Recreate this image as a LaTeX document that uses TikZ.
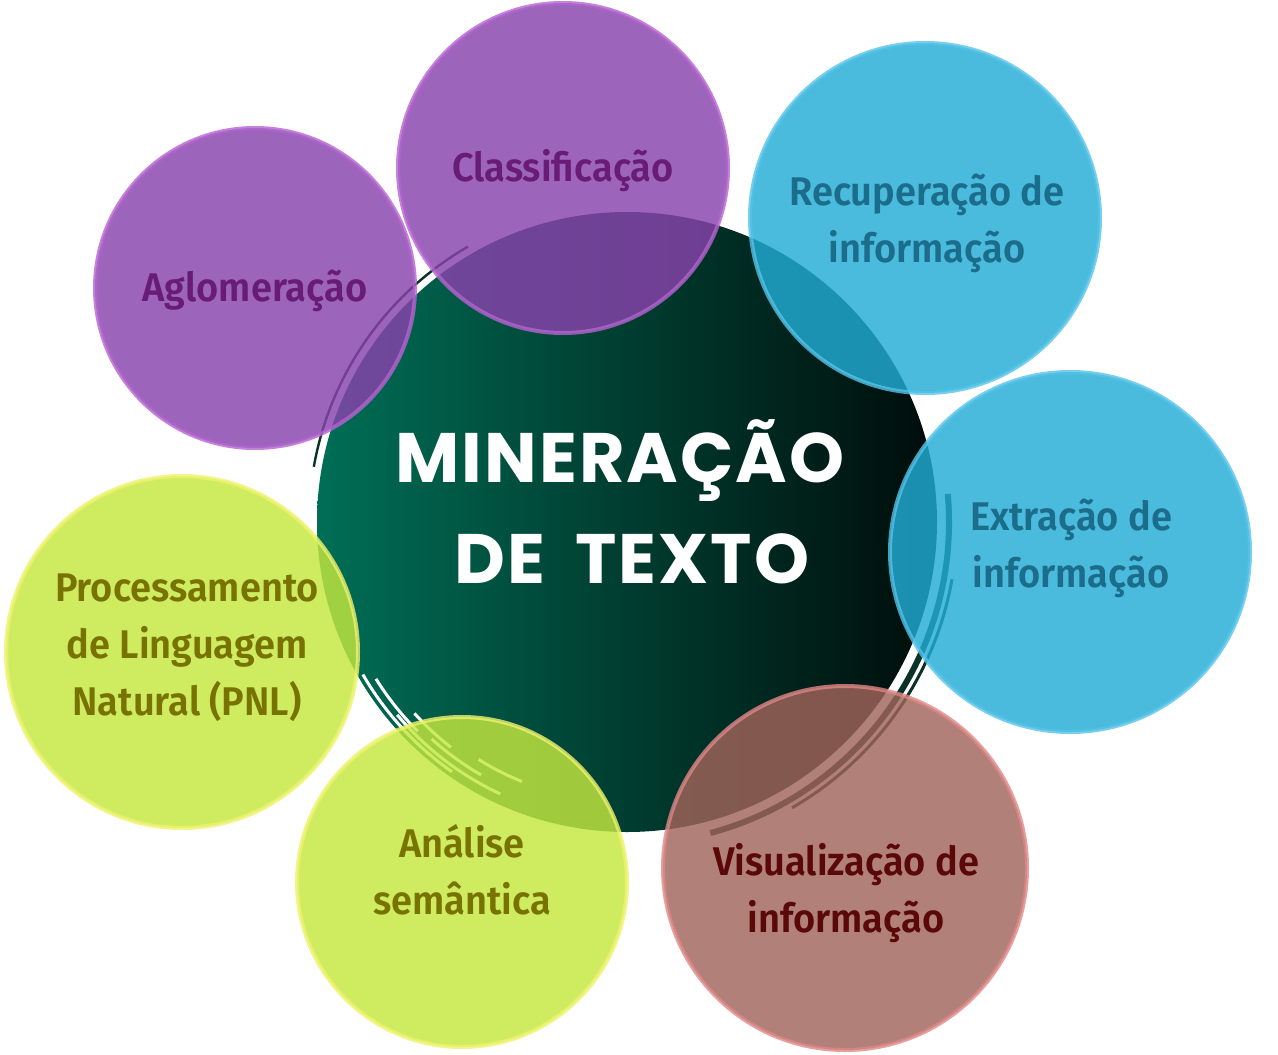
\documentclass[tikz,border=0pt]{standalone}
\usepackage{fontspec}
\setmainfont{Fira Sans}
\newfontfamily\labfont{Fira Sans SemiBold}[FakeStretch=0.95]
\newfontfamily\popfont{Poppins}[LetterSpace=3]
\definecolor{purpF}{RGB}{136,66,172}
\definecolor{purpR}{RGB}{180,100,208}
\definecolor{purpT}{RGB}{105,28,118}
\definecolor{blueF}{RGB}{34,172,212}
\definecolor{blueR}{RGB}{85,195,232}
\definecolor{blueT}{RGB}{28,108,140}
\definecolor{yelF}{RGB}{196,232,62}
\definecolor{yelR}{RGB}{238,242,110}
\definecolor{yelT}{RGB}{120,115,0}
\definecolor{redF}{RGB}{160,100,90}
\definecolor{redR}{RGB}{222,135,135}
\definecolor{redT}{RGB}{90,8,8}
\definecolor{cenL}{RGB}{0,110,86}
\definecolor{cenR}{RGB}{0,12,10}
\definecolor{cenD}{RGB}{10,50,40}
\tikzset{
  bubble/.style={fill opacity=0.82, draw opacity=0.8, line width=2},
  lab/.style={font=\labfont\fontsize{20}{28.5}\selectfont, align=center, inner sep=0},
  central/.style={font=\popfont\bfseries\fontsize{35}{50}\selectfont, text=white, inner sep=0, anchor=base},
}
\begin{document}
\begin{tikzpicture}[x=0.5pt,y=-0.5pt]
\useasboundingbox (0,0) rectangle (1278,1054);
% central circle
\shade[left color=cenL, right color=cenR] (627,522) circle (310);
\coordinate (c) at (627,522);
% brush rings
\draw[cenD, line width=3] (c) ++(-5:322) arc (-5:75:322);
\draw[cenD, line width=1.5] (c) ++(10:330) arc (10:60:330);
\draw[cenD, line width=1.2] (c) ++(190:318) arc (190:240:318);
\foreach \r/\a/\b in {300/115/140, 292/120/132, 305/125/150, 286/128/138, 296/135/148, 280/112/122}
  \draw[white, line width=1.5] (c) ++(\a:\r) arc (\a:\b:\r);
% bubbles
\path[bubble, fill=purpF, draw=purpR] (255,288) circle (160);
\path[bubble, fill=purpF, draw=purpR] (563,168) circle (165);
\path[bubble, fill=blueF, draw=blueR] (925,218) circle (175);
\path[bubble, fill=blueF, draw=blueR] (1070,552) circle (180);
\path[bubble, fill=redF, draw=redR] (845,868) circle (182);
\path[bubble, fill=yelF, draw=yelR] (462,882) circle (165);
\path[bubble, fill=yelF, draw=yelR] (182,652) circle (176);
% labels
\node[lab, text=purpT] (agl) at (255,291) {Aglomeração};
\node[lab, text=purpT] (cla) at (563,171) {Classificação};
\node[lab, text=blueT] (rec) at (927,223) {Recuperação de\\informação};
\node[lab, text=blueT] (ext) at (1071,548) {Extração de\\informação};
\node[lab, text=redT] (vis) at (846,893) {Visualização de\\informação};
\node[lab, text=yelT] (ana) at (462,870) {Análise\\semântica};
\node[lab, text=yelT] (pnl) at (187,648) {Processamento\\de Linguagem\\Natural (PNL)};
\node[central] (min1) at (620,482) {MINERAÇÃO};
\node[central] (min2) at (632,583) {DE\hspace{15pt}TEXTO};
\end{tikzpicture}
\end{document}
